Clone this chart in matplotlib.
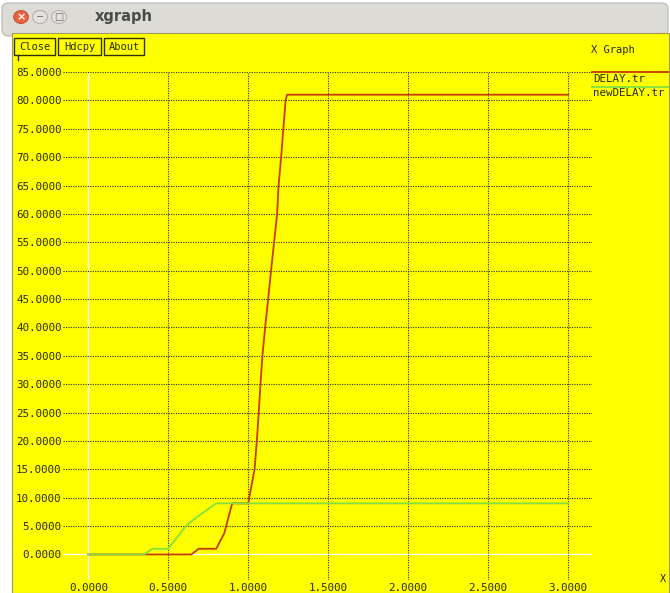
import matplotlib
matplotlib.use("Agg")
import matplotlib.pyplot as plt
from matplotlib.patches import Rectangle, FancyBboxPatch, Circle
from matplotlib.lines import Line2D

# data
x_ticks = [0.0, 0.5, 1.0, 1.5, 2.0, 2.5, 3.0]
y_ticks = list(range(0, 90, 5))

delay_x = [0.0, 0.35, 0.645, 0.69, 0.80, 0.85, 0.90, 1.0, 1.04, 1.054, 1.066, 1.077,
           1.089, 1.106, 1.125, 1.143, 1.162, 1.181, 1.19, 1.206, 1.22, 1.234, 1.243, 3.0]
delay_y = [0, 0, 0, 1, 1, 3.7, 9, 9, 15, 20, 25, 30,
           35, 40, 45, 50, 55, 60, 65, 70, 75, 80, 81, 81]

new_x = [0.0, 0.35, 0.40, 0.50, 0.61, 0.68, 0.80, 3.0]
new_y = [0, 0, 1, 1, 5, 6.6, 9, 9]

series_names = ["DELAY.tr", "newDELAY.tr"]
series_colors = ["#c83c00", "#80e040"]

W, H = 670, 593
YELLOW = "#ffff00"
TXT = "#2a2a10"
MONO = "DejaVu Sans Mono"

fig = plt.figure(figsize=(W / 100, H / 100), dpi=100)
fig.patch.set_facecolor("white")


def fx(px):
    return px / W


def fy(py):
    return 1 - py / H


# window frame
fig.add_artist(FancyBboxPatch((fx(2), fy(36)), fx(666), fy(3) - fy(36),
                              boxstyle="round,pad=0,rounding_size=0.01",
                              transform=fig.transFigure, facecolor="#dddbd6",
                              edgecolor="#b8b6b2", lw=0.8, zorder=-2))
fig.add_artist(Rectangle((fx(12), 0), fx(657), fy(33), transform=fig.transFigure,
                         facecolor=YELLOW, edgecolor="#a09860", lw=0.8, zorder=-1))

# title bar buttons
fig.add_artist(Circle((fx(21), fy(17)), 0.011, transform=fig.transFigure,
                      facecolor="#e8643e", edgecolor="#b04a30", lw=0.6))
fig.text(fx(21), fy(17), "×", color="white", fontsize=8, ha="center", va="center",
         fontweight="bold")
for cx, sym in [(40, "−"), (59, "□")]:
    fig.add_artist(Circle((fx(cx), fy(17)), 0.011, transform=fig.transFigure,
                          facecolor="#e4e2de", edgecolor="#a8a6a2", lw=0.6))
    fig.text(fx(cx), fy(17), sym, color="#6a6a6a", fontsize=7, ha="center", va="center")
fig.text(fx(95), fy(17), "xgraph", color="#4a4a4a", fontsize=10.5,
         fontweight="bold", ha="left", va="center")

# xgraph buttons
for x0, x1, label in [(14, 55, "Close"), (58, 101, "Hdcpy"), (104, 144, "About")]:
    fig.add_artist(Rectangle((fx(x0), fy(55)), fx(x1 - x0), fy(38) - fy(55),
                             transform=fig.transFigure, facecolor=YELLOW,
                             edgecolor="#303010", lw=1.0))
    fig.text(fx((x0 + x1) / 2), fy(47), label, family=MONO, fontsize=7.5,
             color=TXT, ha="center", va="center")
fig.add_artist(Line2D([fx(18), fx(18)], [fy(55), fy(60)], transform=fig.transFigure,
                      color="#303010", lw=1))
fig.text(fx(613), fy(50), "X Graph", family=MONO, fontsize=7.5, color=TXT,
         ha="center", va="center")
fig.text(fx(663), fy(579), "X", family=MONO, fontsize=7.5, color=TXT,
         ha="center", va="center")

# plot area
ax = fig.add_axes([fx(63), fy(580), fx(592 - 63), fy(72) - fy(580)])
ax.set_zorder(2)
ax.patch.set_alpha(0)
for s in ax.spines.values():
    s.set_visible(False)
ax.set_xlim(-0.158, 3.15)
ax.set_ylim(-4.5, 85)

for v in x_ticks:
    if v == 0:
        ax.axvline(v, color="white", lw=0.9, zorder=1)
    else:
        ax.axvline(v, color="#303010", lw=0.8, ls=(0, (1, 1.2)), zorder=1)
for v in y_ticks:
    if v == 0:
        ax.axhline(v, color="white", lw=0.9, zorder=1)
    else:
        ax.axhline(v, color="#303010", lw=0.8, ls=(0, (1, 1.2)), zorder=1)

ax.set_xticks(x_ticks)
ax.set_xticklabels([f"{v:.4f}" for v in x_ticks])
ax.set_yticks(y_ticks)
ax.set_yticklabels([f"{v:.4f}" for v in y_ticks])
ax.tick_params(axis="both", length=0, labelsize=7.8, labelcolor=TXT)
ax.tick_params(axis="y", pad=1)
ax.tick_params(axis="x", pad=2)
for lab in ax.get_xticklabels() + ax.get_yticklabels():
    lab.set_family(MONO)

ax.plot(delay_x, delay_y, color=series_colors[0], lw=1.3, zorder=3)
ax.plot(new_x, new_y, color=series_colors[1], lw=1.3, zorder=4)

# legend in xgraph style
for i, (name, col) in enumerate(zip(series_names, series_colors)):
    ly = 72 + i * 15
    fig.add_artist(Line2D([fx(592), fx(668)], [fy(ly), fy(ly)],
                          transform=fig.transFigure, color=col, lw=1.3))
    fig.text(fx(593), fy(ly + 6.5), name, family=MONO, fontsize=7.8, color=TXT,
             ha="left", va="center")

fig.savefig("out.png", dpi=100, facecolor=fig.get_facecolor())
